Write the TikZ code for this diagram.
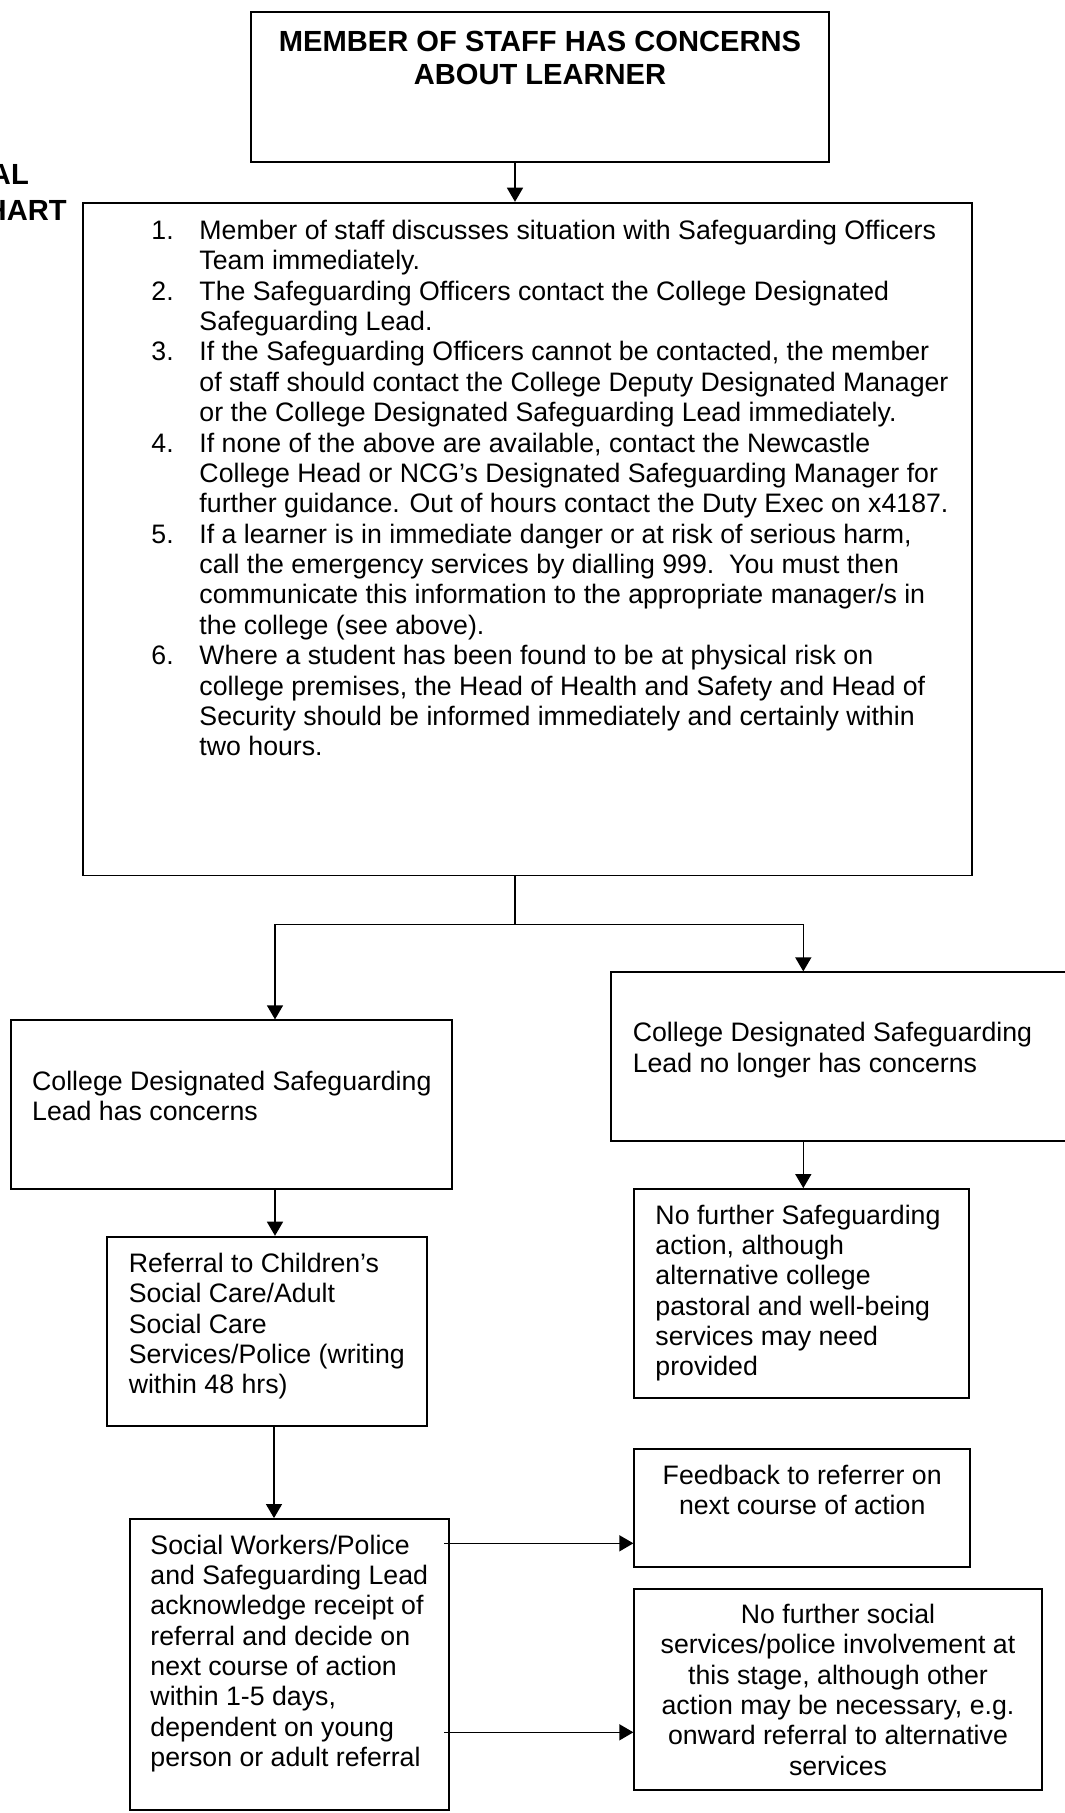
\documentclass[tikz,border=0pt]{standalone}
\usepackage{fontspec}
\setmainfont{Liberation Sans}
\usetikzlibrary{arrows.meta,fit}
\newlength\pxu
\setlength\pxu{0.412pt}
\newcommand\bodyf{\fontsize{11}{12.52}\selectfont}
\newcommand\titlef{\fontsize{12}{14}\selectfont\bfseries}
\tikzset{
  boxn/.style={draw, line width=0.75pt, inner sep=0pt, rectangle},
  conn/.style={line width=0.6pt},
  arr/.style={conn, -{Triangle[length=5.8pt,width=6.6pt]}},
  lt/.style={inner sep=0pt, anchor=base west, font=\bodyf},
  ct/.style={inner sep=0pt, anchor=base, font=\bodyf},
  hd/.style={inner sep=0pt, anchor=base east, font=\titlef},
}
\begin{document}
\begin{tikzpicture}[x=0.412pt,y=-0.412pt]
\fill[white] (0,0) rectangle (1065,1813);
\useasboundingbox (0,0) rectangle (1065,1813);

% partially visible heading at the left edge (cut by the page edge)
\node[hd] (hda) at (29.3,184.3) {AL};
\node[hd] (hdb) at (67.1,220.7) {HART};

% boxes
\node[boxn, fit={(250.7,12.3) (829.3,161.7)}] (top) {};
\node[boxn, fit={(82.6,202.7) (971.6,875.5)}] (main) {};
\node[boxn, fit={(11,1020.3) (452.3,1188.7)}] (lbox) {};
\node[boxn, fit={(611,972.3) (1090,1140.7)}] (rbox) {};
\node[boxn, fit={(634,1189) (969.3,1398.3)}] (nfs) {};
\node[boxn, fit={(106.7,1236.7) (426.7,1425.7)}] (ref) {};
\node[boxn, fit={(130,1519) (449.3,1810)}] (sw) {};
\node[boxn, fit={(634.3,1449.3) (970,1566.7)}] (fb) {};
\node[boxn, fit={(634.3,1589.3) (1041.7,1790)}] (nfp) {};

% texts
\node[ct, font=\titlef] (titlet) at (540,51) {\parbox[t]{600\pxu}{\centering MEMBER OF STAFF HAS CONCERNS\\ABOUT LEARNER}};

\node[lt] (listt) at (151,239.3) {\parbox[t]{900\pxu}{\raggedright
\makebox[48\pxu][l]{1.}Member of staff discusses situation with Safeguarding Officers\\
\hspace*{48\pxu}Team immediately.\\
\makebox[48\pxu][l]{2.}The Safeguarding Officers contact the College Designated\\
\hspace*{48\pxu}Safeguarding Lead.\\
\makebox[48\pxu][l]{3.}If the Safeguarding Officers cannot be contacted, the member\\
\hspace*{48\pxu}of staff should contact the College Deputy Designated Manager\\
\hspace*{48\pxu}or the College Designated Safeguarding Lead immediately.\\
\makebox[48\pxu][l]{4.}If none of the above are available, contact the Newcastle\\
\hspace*{48\pxu}College Head or NCG’s Designated Safeguarding Manager for\\
\hspace*{48\pxu}further guidance. Out of hours contact the Duty Exec on x4187.\\
\makebox[48\pxu][l]{5.}If a learner is in immediate danger or at risk of serious harm,\\
\hspace*{48\pxu}call the emergency services by dialling 999.~~You must then\\
\hspace*{48\pxu}communicate this information to the appropriate manager/s in\\
\hspace*{48\pxu}the college (see above).\\
\makebox[48\pxu][l]{6.}Where a student has been found to be at physical risk on\\
\hspace*{48\pxu}college premises, the Head of Health and Safety and Head of\\
\hspace*{48\pxu}Security should be informed immediately and certainly within\\
\hspace*{48\pxu}two hours.}};

\node[lt] (lboxt) at (31.7,1090) {\parbox[t]{430\pxu}{\raggedright College Designated Safeguarding\\Lead has concerns}};
\node[lt] (rboxt) at (632.3,1041.7) {\parbox[t]{430\pxu}{\raggedright College Designated Safeguarding\\Lead no longer has concerns}};
\node[lt] (nfst) at (655,1224) {\parbox[t]{400\pxu}{\raggedright No further Safeguarding\\action, although\\alternative college\\pastoral and well-being\\services may need\\provided}};
\node[lt] (reft) at (128.3,1272.3) {\parbox[t]{400\pxu}{\raggedright Referral to Children’s\\Social Care/Adult\\Social Care\\Services/Police (writing\\within 48 hrs)}};
\node[lt] (swt) at (150,1554) {\parbox[t]{400\pxu}{\raggedright Social Workers/Police\\and Safeguarding Lead\\acknowledge receipt of\\referral and decide on\\next course of action\\within 1-5 days,\\dependent on young\\person or adult referral}};
\node[ct] (fbt) at (802.2,1484) {\parbox[t]{400\pxu}{\centering Feedback to referrer on\\next course of action}};
\node[ct] (nfpt) at (838,1623.3) {\parbox[t]{420\pxu}{\centering No further social\\services/police involvement at\\this stage, although other\\action may be necessary, e.g.\\onward referral to alternative\\services}};

% connectors
\coordinate (ax) at (515,0);
\draw[arr] (top.south -| ax) -- (main.north -| ax);
\coordinate (jn) at (515,924.3);
\coordinate (jl) at (275,924.3);
\coordinate (jr) at (803.3,924.3);
\draw[conn] (main.south -| jn) -- (jn);
\draw[arr] (jn) -| (lbox.north -| jl);
\draw[arr] (jn) -| (rbox.north -| jr);
\coordinate (rx) at (803.3,0);
\draw[arr] (rbox.south -| rx) -- (nfs.north -| rx);
\coordinate (lx) at (275,0);
\draw[arr] (lbox.south -| lx) -- (ref.north -| lx);
\coordinate (sx) at (274,0);
\draw[arr] (ref.south -| sx) -- (sw.north -| sx);
\coordinate (ya) at (0,1543.3);
\coordinate (yb) at (0,1732.3);
\draw[arr] ([xshift=-2.5pt]sw.east |- ya) -- (fb.west |- ya);
\draw[arr] ([xshift=-2.5pt]sw.east |- yb) -- (nfp.west |- yb);
\end{tikzpicture}
\end{document}
